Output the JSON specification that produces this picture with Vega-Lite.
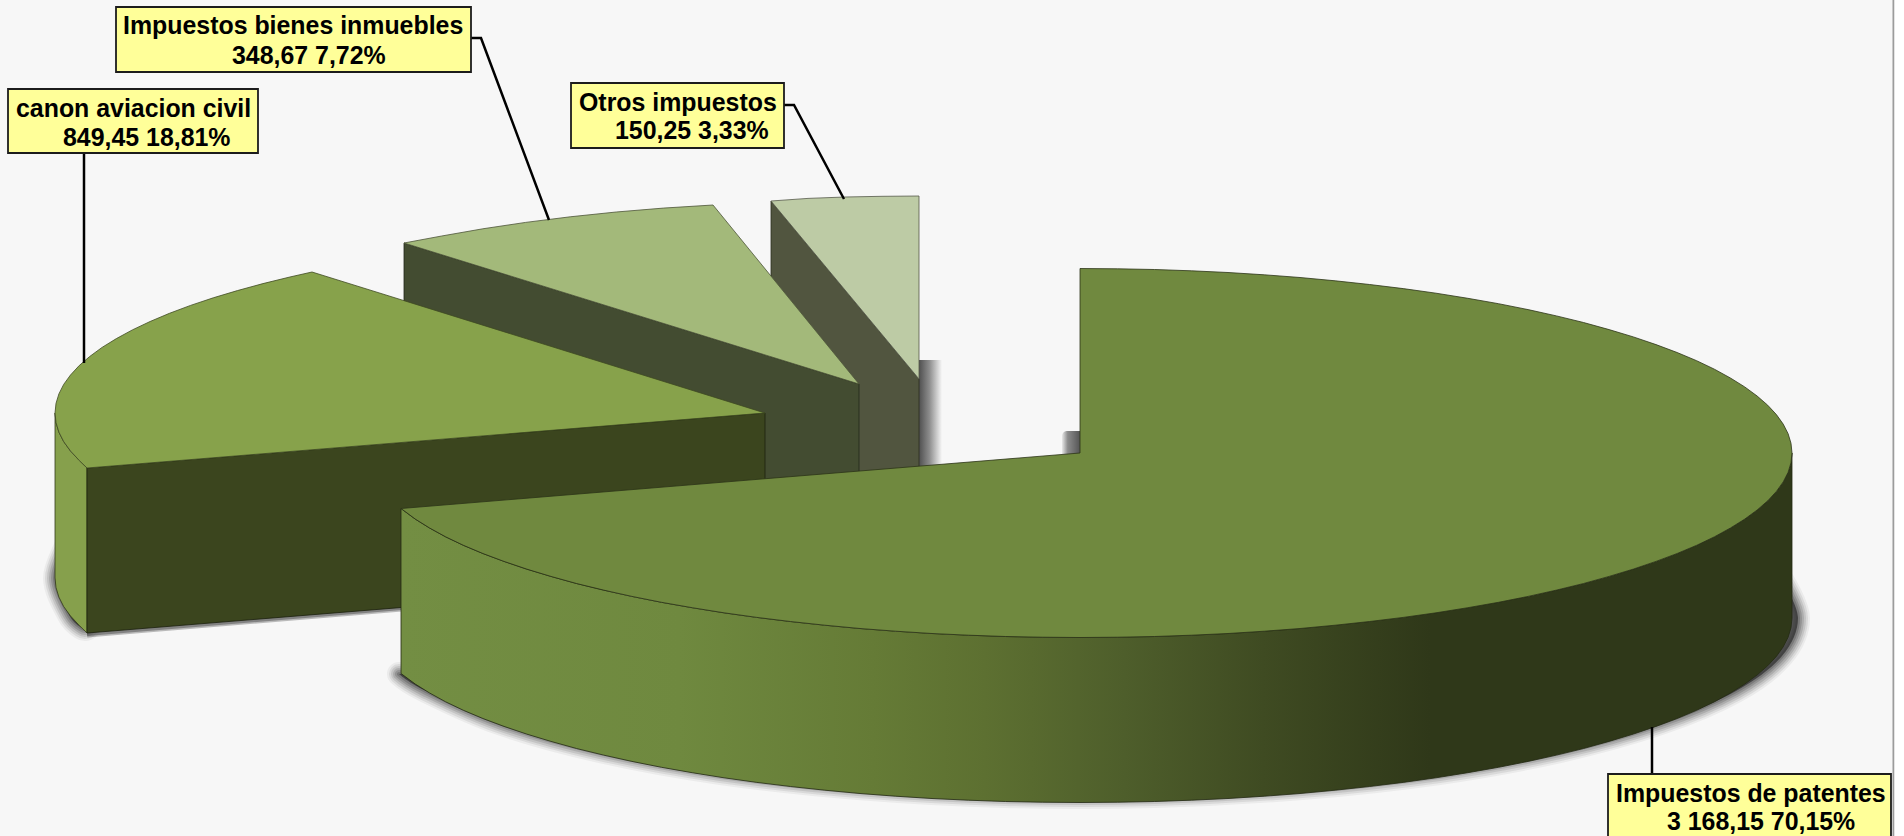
{
"$schema":"https://vega.github.io/schema/vega-lite/v6.json",
"width":1904,"height":836,"padding":0,
"autosize":{"type":"none"},
"background":"#f7f7f7",
"config":{"view":{"stroke":null}},
"datasets":{
"frame":[{"x":1892.5,"x2":1894.5,"y":0,"y2":836,"part":"border"},{"x":1894.5,"x2":1904,"y":0,"y2":836,"part":"outside"}],
"otrosShadow":[{"x":919,"x2":942,"y":360,"y2":470}],
"notchShadow":[{"x":1062,"x2":1081,"y":431,"y2":458}],
"otrosCut":[{"i":1,"x":771,"y":201},{"i":2,"x":919,"y":379},{"i":3,"x":919,"y":544},{"i":4,"x":771,"y":366},{"i":5,"x":771,"y":201}],
"otrosTop":[{"i":1,"x":771,"y":201},{"i":2,"x":808,"y":198.4},{"i":3,"x":845,"y":197},{"i":4,"x":882,"y":196.3},{"i":5,"x":919,"y":196},{"i":6,"x":919,"y":379},{"i":7,"x":771,"y":201}],
"bienesCut":[{"i":1,"x":404,"y":243},{"i":2,"x":859,"y":384},{"i":3,"x":859,"y":549},{"i":4,"x":404,"y":408},{"i":5,"x":404,"y":243}],
"bienesTop":[{"i":1,"x":404,"y":243},{"i":2,"x":441.7,"y":236},{"i":3,"x":482.8,"y":228.8},{"i":4,"x":525.7,"y":222.4},{"i":5,"x":570.2,"y":216.8},{"i":6,"x":616.2,"y":212},{"i":7,"x":663.3,"y":208.1},{"i":8,"x":713,"y":205},{"i":9,"x":859,"y":384},{"i":10,"x":404,"y":243}],
"bigShadow":[{"i":1,"x":1782,"y":580},{"i":2,"x":1798,"y":618},{"i":3,"x":1782,"y":656},{"i":4,"x":1736,"y":691},{"i":5,"x":1661,"y":723},{"i":6,"x":1560,"y":751},{"i":7,"x":1439,"y":773},{"i":8,"x":1302,"y":788},{"i":9,"x":1155,"y":796},{"i":10,"x":1005,"y":796},{"i":11,"x":858,"y":788},{"i":12,"x":721,"y":773},{"i":13,"x":600,"y":751},{"i":14,"x":499,"y":723},{"i":15,"x":424,"y":690},{"i":16,"x":399,"y":674}],
"canonShadow":[{"i":1,"x":69,"y":541},{"i":2,"x":55,"y":578},{"i":3,"x":69,"y":615},{"i":4,"x":82,"y":628},{"i":5,"x":88,"y":628}],
"canonEdge":[{"i":1,"x":87,"y":634},{"i":2,"x":450,"y":604}],
"canonBand":[{"i":1,"x":55,"y":413},{"i":2,"x":56,"y":422.6},{"i":3,"x":58.9,"y":432.1},{"i":4,"x":63.7,"y":441.6},{"i":5,"x":70.5,"y":451},{"i":6,"x":79.2,"y":460.4},{"i":7,"x":87,"y":468},{"i":8,"x":87,"y":633},{"i":9,"x":79.2,"y":625.4},{"i":10,"x":70.5,"y":616},{"i":11,"x":63.7,"y":606.6},{"i":12,"x":58.9,"y":597.1},{"i":13,"x":56,"y":587.6},{"i":14,"x":55,"y":578},{"i":15,"x":55,"y":413}],
"canonCut":[{"i":1,"x":87,"y":468},{"i":2,"x":765,"y":413},{"i":3,"x":765,"y":578},{"i":4,"x":87,"y":633},{"i":5,"x":87,"y":468}],
"canonTop":[{"i":1,"x":87,"y":468},{"i":2,"x":79.2,"y":460.4},{"i":3,"x":70.5,"y":451},{"i":4,"x":63.7,"y":441.6},{"i":5,"x":58.9,"y":432.1},{"i":6,"x":56,"y":422.6},{"i":7,"x":55,"y":413},{"i":8,"x":56,"y":403.4},{"i":9,"x":58.9,"y":393.9},{"i":10,"x":63.7,"y":384.4},{"i":11,"x":70.5,"y":375},{"i":12,"x":79.2,"y":365.6},{"i":13,"x":89.7,"y":356.5},{"i":14,"x":102.1,"y":347.4},{"i":15,"x":116.4,"y":338.6},{"i":16,"x":132.4,"y":329.9},{"i":17,"x":150.1,"y":321.5},{"i":18,"x":169.5,"y":313.3},{"i":19,"x":190.6,"y":305.4},{"i":20,"x":213.3,"y":297.8},{"i":21,"x":237.4,"y":290.6},{"i":22,"x":263,"y":283.6},{"i":23,"x":289.9,"y":277},{"i":24,"x":312,"y":272},{"i":25,"x":765,"y":413},{"i":26,"x":87,"y":468}],
"bigBand":[{"i":1,"x":1792,"y":453},{"i":2,"x":1791,"y":462.7},{"i":3,"x":1788.1,"y":472.3},{"i":4,"x":1783.2,"y":481.9},{"i":5,"x":1776.4,"y":491.4},{"i":6,"x":1767.7,"y":500.8},{"i":7,"x":1757.1,"y":510},{"i":8,"x":1744.7,"y":519.1},{"i":9,"x":1730.4,"y":528},{"i":10,"x":1714.4,"y":536.8},{"i":11,"x":1696.6,"y":545.3},{"i":12,"x":1677.1,"y":553.5},{"i":13,"x":1656,"y":561.4},{"i":14,"x":1633.3,"y":569.1},{"i":15,"x":1609.1,"y":576.4},{"i":16,"x":1583.5,"y":583.5},{"i":17,"x":1556.4,"y":590.1},{"i":18,"x":1528.1,"y":596.4},{"i":19,"x":1498.5,"y":602.3},{"i":20,"x":1467.8,"y":607.7},{"i":21,"x":1436,"y":612.8},{"i":22,"x":1403.2,"y":617.4},{"i":23,"x":1369.6,"y":621.5},{"i":24,"x":1335.2,"y":625.2},{"i":25,"x":1300,"y":628.5},{"i":26,"x":1264.3,"y":631.2},{"i":27,"x":1228,"y":633.5},{"i":28,"x":1191.4,"y":635.2},{"i":29,"x":1154.4,"y":636.5},{"i":30,"x":1117.3,"y":637.2},{"i":31,"x":1080,"y":637.5},{"i":32,"x":1042.7,"y":637.2},{"i":33,"x":1005.6,"y":636.5},{"i":34,"x":968.6,"y":635.2},{"i":35,"x":932,"y":633.5},{"i":36,"x":895.7,"y":631.2},{"i":37,"x":860,"y":628.5},{"i":38,"x":824.8,"y":625.2},{"i":39,"x":790.4,"y":621.5},{"i":40,"x":756.8,"y":617.4},{"i":41,"x":724,"y":612.8},{"i":42,"x":692.2,"y":607.7},{"i":43,"x":661.5,"y":602.3},{"i":44,"x":631.9,"y":596.4},{"i":45,"x":603.6,"y":590.1},{"i":46,"x":576.5,"y":583.5},{"i":47,"x":550.9,"y":576.4},{"i":48,"x":526.7,"y":569.1},{"i":49,"x":504,"y":561.4},{"i":50,"x":482.9,"y":553.5},{"i":51,"x":463.4,"y":545.3},{"i":52,"x":445.6,"y":536.8},{"i":53,"x":429.6,"y":528},{"i":54,"x":415.3,"y":519.1},{"i":55,"x":401,"y":508.5},{"i":56,"x":401,"y":673.5},{"i":57,"x":415.3,"y":684.1},{"i":58,"x":429.6,"y":693},{"i":59,"x":445.6,"y":701.8},{"i":60,"x":463.4,"y":710.3},{"i":61,"x":482.9,"y":718.5},{"i":62,"x":504,"y":726.4},{"i":63,"x":526.7,"y":734.1},{"i":64,"x":550.9,"y":741.4},{"i":65,"x":576.5,"y":748.5},{"i":66,"x":603.6,"y":755.1},{"i":67,"x":631.9,"y":761.4},{"i":68,"x":661.5,"y":767.3},{"i":69,"x":692.2,"y":772.7},{"i":70,"x":724,"y":777.8},{"i":71,"x":756.8,"y":782.4},{"i":72,"x":790.4,"y":786.5},{"i":73,"x":824.8,"y":790.2},{"i":74,"x":860,"y":793.5},{"i":75,"x":895.7,"y":796.2},{"i":76,"x":932,"y":798.5},{"i":77,"x":968.6,"y":800.2},{"i":78,"x":1005.6,"y":801.5},{"i":79,"x":1042.7,"y":802.2},{"i":80,"x":1080,"y":802.5},{"i":81,"x":1117.3,"y":802.2},{"i":82,"x":1154.4,"y":801.5},{"i":83,"x":1191.4,"y":800.2},{"i":84,"x":1228,"y":798.5},{"i":85,"x":1264.3,"y":796.2},{"i":86,"x":1300,"y":793.5},{"i":87,"x":1335.2,"y":790.2},{"i":88,"x":1369.6,"y":786.5},{"i":89,"x":1403.2,"y":782.4},{"i":90,"x":1436,"y":777.8},{"i":91,"x":1467.8,"y":772.7},{"i":92,"x":1498.5,"y":767.3},{"i":93,"x":1528.1,"y":761.4},{"i":94,"x":1556.4,"y":755.1},{"i":95,"x":1583.5,"y":748.5},{"i":96,"x":1609.1,"y":741.4},{"i":97,"x":1633.3,"y":734.1},{"i":98,"x":1656,"y":726.4},{"i":99,"x":1677.1,"y":718.5},{"i":100,"x":1696.6,"y":710.3},{"i":101,"x":1714.4,"y":701.8},{"i":102,"x":1730.4,"y":693},{"i":103,"x":1744.7,"y":684.1},{"i":104,"x":1757.1,"y":675},{"i":105,"x":1767.7,"y":665.8},{"i":106,"x":1776.4,"y":656.4},{"i":107,"x":1783.2,"y":646.9},{"i":108,"x":1788.1,"y":637.3},{"i":109,"x":1791,"y":627.7},{"i":110,"x":1792,"y":618},{"i":111,"x":1792,"y":453}],
"bigTop":[{"i":1,"x":1080,"y":268.5},{"i":2,"x":1117.3,"y":268.8},{"i":3,"x":1154.4,"y":269.5},{"i":4,"x":1191.4,"y":270.8},{"i":5,"x":1228,"y":272.5},{"i":6,"x":1264.3,"y":274.8},{"i":7,"x":1300,"y":277.5},{"i":8,"x":1335.2,"y":280.8},{"i":9,"x":1369.6,"y":284.5},{"i":10,"x":1403.2,"y":288.6},{"i":11,"x":1436,"y":293.2},{"i":12,"x":1467.8,"y":298.3},{"i":13,"x":1498.5,"y":303.7},{"i":14,"x":1528.1,"y":309.6},{"i":15,"x":1556.4,"y":315.9},{"i":16,"x":1583.5,"y":322.5},{"i":17,"x":1609.1,"y":329.6},{"i":18,"x":1633.3,"y":336.9},{"i":19,"x":1656,"y":344.6},{"i":20,"x":1677.1,"y":352.5},{"i":21,"x":1696.6,"y":360.7},{"i":22,"x":1714.4,"y":369.2},{"i":23,"x":1730.4,"y":378},{"i":24,"x":1744.7,"y":386.9},{"i":25,"x":1757.1,"y":396},{"i":26,"x":1767.7,"y":405.2},{"i":27,"x":1776.4,"y":414.6},{"i":28,"x":1783.2,"y":424.1},{"i":29,"x":1788.1,"y":433.7},{"i":30,"x":1791,"y":443.3},{"i":31,"x":1792,"y":453},{"i":32,"x":1791,"y":462.7},{"i":33,"x":1788.1,"y":472.3},{"i":34,"x":1783.2,"y":481.9},{"i":35,"x":1776.4,"y":491.4},{"i":36,"x":1767.7,"y":500.8},{"i":37,"x":1757.1,"y":510},{"i":38,"x":1744.7,"y":519.1},{"i":39,"x":1730.4,"y":528},{"i":40,"x":1714.4,"y":536.8},{"i":41,"x":1696.6,"y":545.3},{"i":42,"x":1677.1,"y":553.5},{"i":43,"x":1656,"y":561.4},{"i":44,"x":1633.3,"y":569.1},{"i":45,"x":1609.1,"y":576.4},{"i":46,"x":1583.5,"y":583.5},{"i":47,"x":1556.4,"y":590.1},{"i":48,"x":1528.1,"y":596.4},{"i":49,"x":1498.5,"y":602.3},{"i":50,"x":1467.8,"y":607.7},{"i":51,"x":1436,"y":612.8},{"i":52,"x":1403.2,"y":617.4},{"i":53,"x":1369.6,"y":621.5},{"i":54,"x":1335.2,"y":625.2},{"i":55,"x":1300,"y":628.5},{"i":56,"x":1264.3,"y":631.2},{"i":57,"x":1228,"y":633.5},{"i":58,"x":1191.4,"y":635.2},{"i":59,"x":1154.4,"y":636.5},{"i":60,"x":1117.3,"y":637.2},{"i":61,"x":1080,"y":637.5},{"i":62,"x":1042.7,"y":637.2},{"i":63,"x":1005.6,"y":636.5},{"i":64,"x":968.6,"y":635.2},{"i":65,"x":932,"y":633.5},{"i":66,"x":895.7,"y":631.2},{"i":67,"x":860,"y":628.5},{"i":68,"x":824.8,"y":625.2},{"i":69,"x":790.4,"y":621.5},{"i":70,"x":756.8,"y":617.4},{"i":71,"x":724,"y":612.8},{"i":72,"x":692.2,"y":607.7},{"i":73,"x":661.5,"y":602.3},{"i":74,"x":631.9,"y":596.4},{"i":75,"x":603.6,"y":590.1},{"i":76,"x":576.5,"y":583.5},{"i":77,"x":550.9,"y":576.4},{"i":78,"x":526.7,"y":569.1},{"i":79,"x":504,"y":561.4},{"i":80,"x":482.9,"y":553.5},{"i":81,"x":463.4,"y":545.3},{"i":82,"x":445.6,"y":536.8},{"i":83,"x":429.6,"y":528},{"i":84,"x":415.3,"y":519.1},{"i":85,"x":401,"y":508.5},{"i":86,"x":1080,"y":453},{"i":87,"x":1080,"y":268.5}],
"leaders":[{"name":"bienes","i":1,"x":471,"y":38},{"name":"bienes","i":2,"x":481,"y":38},{"name":"bienes","i":3,"x":549,"y":220},{"name":"otros","i":1,"x":784,"y":105},{"name":"otros","i":2,"x":794,"y":105},{"name":"otros","i":3,"x":844,"y":199},{"name":"canon","i":1,"x":84,"y":153},{"name":"canon","i":2,"x":84,"y":363},{"name":"patentes","i":1,"x":1652,"y":727},{"name":"patentes","i":2,"x":1652,"y":774}],
"boxes":[{"name":"Impuestos bienes inmuebles","value":348.67,"pct":7.72,"x":116,"x2":471,"y":7,"y2":72},{"name":"canon aviacion civil","value":849.45,"pct":18.81,"x":8,"x2":258,"y":89,"y2":153},{"name":"Otros impuestos","value":150.25,"pct":3.33,"x":571,"x2":784,"y":83,"y2":148},{"name":"Impuestos de patentes","value":3168.15,"pct":70.15,"x":1608,"x2":1891,"y":774,"y2":842}],
"labels":[{"t":"Impuestos bienes inmuebles","x":123,"y":34},{"t":"348,67 7,72%","x":232,"y":64},{"t":"canon aviacion civil","x":16,"y":117},{"t":"849,45 18,81%","x":63,"y":146},{"t":"Otros impuestos","x":579,"y":111},{"t":"150,25 3,33%","x":615,"y":139},{"t":"Impuestos de patentes","x":1616,"y":802},{"t":"3 168,15 70,15%","x":1667,"y":830}]
},
"encoding":{
"x":{"field":"x","type":"quantitative","scale":{"domain":[0,1904],"nice":false,"zero":false},"axis":null},
"y":{"field":"y","type":"quantitative","scale":{"domain":[836,0],"nice":false,"zero":false},"axis":null}
},
"layer":[
{"data":{"name":"frame"},"mark":{"type":"rect"},"encoding":{"x2":{"field":"x2"},"y2":{"field":"y2"},"color":{"field":"part","type":"nominal","legend":null,"scale":{"domain":["border","outside"],"range":["#9c9c9c","#ffffff"]}}}},
{"data":{"name":"otrosShadow"},"mark":{"type":"rect","fill":{"gradient":"linear","x1":0,"y1":0,"x2":1,"y2":0,"stops":[{"offset":0,"color":"#505050"},{"offset":0.45,"color":"#8c8c8c"},{"offset":1,"color":"#f7f7f7"}]}},"encoding":{"x2":{"field":"x2"},"y2":{"field":"y2"}}},
{"data":{"name":"otrosCut"},"mark":{"type":"line","fill":"#51553f","stroke":"#2b2d20","strokeWidth":0.8},"encoding":{"order":{"field":"i"}}},
{"data":{"name":"otrosTop"},"mark":{"type":"line","fill":"#bdcba5","stroke":"#55594a","strokeWidth":0.8},"encoding":{"order":{"field":"i"}}},
{"data":{"name":"bienesCut"},"mark":{"type":"line","fill":"#434c31","stroke":"#22261a","strokeWidth":0.8},"encoding":{"order":{"field":"i"}}},
{"data":{"name":"bienesTop"},"mark":{"type":"line","fill":"#a3b97a","stroke":"#4c5438","strokeWidth":0.8},"encoding":{"order":{"field":"i"}}},
{"data":{"name":"bigShadow"},"mark":{"type":"line","interpolate":"cardinal","stroke":"#303030","strokeWidth":24,"strokeOpacity":0.06,"strokeCap":"round"},"encoding":{"order":{"field":"i"}}},
{"data":{"name":"bigShadow"},"mark":{"type":"line","interpolate":"cardinal","stroke":"#303030","strokeWidth":20,"strokeOpacity":0.09,"strokeCap":"round"},"encoding":{"order":{"field":"i"}}},
{"data":{"name":"bigShadow"},"mark":{"type":"line","interpolate":"cardinal","stroke":"#303030","strokeWidth":16,"strokeOpacity":0.12,"strokeCap":"round"},"encoding":{"order":{"field":"i"}}},
{"data":{"name":"bigShadow"},"mark":{"type":"line","interpolate":"cardinal","stroke":"#303030","strokeWidth":12,"strokeOpacity":0.16,"strokeCap":"round"},"encoding":{"order":{"field":"i"}}},
{"data":{"name":"bigShadow"},"mark":{"type":"line","interpolate":"cardinal","stroke":"#303030","strokeWidth":8,"strokeOpacity":0.2,"strokeCap":"round"},"encoding":{"order":{"field":"i"}}},
{"data":{"name":"bigShadow"},"mark":{"type":"line","interpolate":"cardinal","stroke":"#303030","strokeWidth":4,"strokeOpacity":0.25,"fill":"#303030","fillOpacity":0.75,"strokeCap":"round"},"encoding":{"order":{"field":"i"}}},
{"data":{"name":"canonShadow"},"mark":{"type":"line","interpolate":"cardinal","stroke":"#303030","strokeWidth":24,"strokeOpacity":0.06,"strokeCap":"round"},"encoding":{"order":{"field":"i"}}},
{"data":{"name":"canonShadow"},"mark":{"type":"line","interpolate":"cardinal","stroke":"#303030","strokeWidth":20,"strokeOpacity":0.09,"strokeCap":"round"},"encoding":{"order":{"field":"i"}}},
{"data":{"name":"canonShadow"},"mark":{"type":"line","interpolate":"cardinal","stroke":"#303030","strokeWidth":16,"strokeOpacity":0.12,"strokeCap":"round"},"encoding":{"order":{"field":"i"}}},
{"data":{"name":"canonShadow"},"mark":{"type":"line","interpolate":"cardinal","stroke":"#303030","strokeWidth":12,"strokeOpacity":0.16,"strokeCap":"round"},"encoding":{"order":{"field":"i"}}},
{"data":{"name":"canonShadow"},"mark":{"type":"line","interpolate":"cardinal","stroke":"#303030","strokeWidth":8,"strokeOpacity":0.2,"strokeCap":"round"},"encoding":{"order":{"field":"i"}}},
{"data":{"name":"canonShadow"},"mark":{"type":"line","interpolate":"cardinal","stroke":"#303030","strokeWidth":4,"strokeOpacity":0.25,"fill":"#303030","fillOpacity":0.75,"strokeCap":"round"},"encoding":{"order":{"field":"i"}}},
{"data":{"name":"canonEdge"},"mark":{"type":"line","stroke":"#303030","strokeWidth":7,"strokeOpacity":0.3},"encoding":{"order":{"field":"i"}}},
{"data":{"name":"canonEdge"},"mark":{"type":"line","stroke":"#303030","strokeWidth":4,"strokeOpacity":0.4},"encoding":{"order":{"field":"i"}}},
{"data":{"name":"canonBand"},"mark":{"type":"line","fill":"#86a04c","stroke":"#333a1c","strokeWidth":0.8},"encoding":{"order":{"field":"i"}}},
{"data":{"name":"canonCut"},"mark":{"type":"line","fill":"#3b451e","stroke":"#1c210e","strokeWidth":0.8},"encoding":{"order":{"field":"i"}}},
{"data":{"name":"canonTop"},"mark":{"type":"line","fill":"#87a24b","stroke":"#3f4a22","strokeWidth":0.8},"encoding":{"order":{"field":"i"}}},
{"data":{"name":"notchShadow"},"mark":{"type":"rect","cornerRadiusTopLeft":5,"fill":{"gradient":"linear","x1":0,"y1":0,"x2":1,"y2":0,"stops":[{"offset":0,"color":"#e8e8e8"},{"offset":0.3,"color":"#8c8c8c"},{"offset":1,"color":"#505050"}]}},"encoding":{"x2":{"field":"x2"},"y2":{"field":"y2"}}},
{"data":{"name":"bigBand"},"mark":{"type":"line","stroke":"#232913","strokeWidth":0.8,"fill":{"gradient":"linear","x1":0,"y1":0,"x2":1,"y2":0,"stops":[{"offset":0,"color":"#738e43"},{"offset":0.2,"color":"#6f893f"},{"offset":0.34,"color":"#657b36"},{"offset":0.42,"color":"#5d7031"},{"offset":0.52,"color":"#4e5e2b"},{"offset":0.62,"color":"#3f4b22"},{"offset":0.74,"color":"#2f3819"},{"offset":1,"color":"#2f3819"}]}},"encoding":{"order":{"field":"i"}}},
{"data":{"name":"bigTop"},"mark":{"type":"line","fill":"#70893f","stroke":"#2c3318","strokeWidth":0.8},"encoding":{"order":{"field":"i"}}},
{"data":{"name":"leaders"},"mark":{"type":"line","stroke":"#000000","strokeWidth":2.5},"encoding":{"detail":{"field":"name"},"order":{"field":"i"}}},
{"data":{"name":"boxes"},"mark":{"type":"rect","fill":"#ffff99","stroke":"#1c1c1c","strokeWidth":1.8,"clip":true},"encoding":{"x2":{"field":"x2"},"y2":{"field":"y2"}}},
{"data":{"name":"labels"},"mark":{"type":"text","font":"Liberation Sans","fontWeight":"bold","fontSize":24.9,"align":"left","baseline":"alphabetic","color":"#000000"},"encoding":{"text":{"field":"t"}}}
]
}
